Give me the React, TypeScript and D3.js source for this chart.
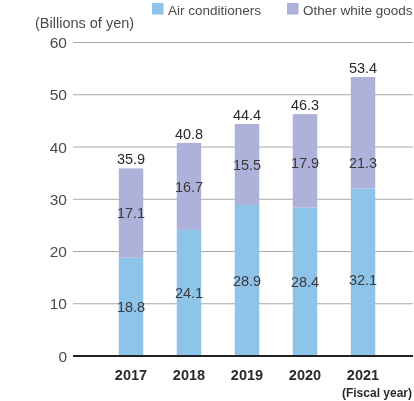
import React from "react";
import * as d3 from "d3";

const years = ["2017", "2018", "2019", "2020", "2021"];
const airConditioners = [18.8, 24.1, 28.9, 28.4, 32.1];
const otherWhiteGoods = [17.1, 16.7, 15.5, 17.9, 21.3];
const yTicks = [0, 10, 20, 30, 40, 50, 60];
const seriesNames = ["Air conditioners", "Other white goods"];
const colors = ["#8fc4ea", "#aeb2da"];

const W = 414;
const H = 401;
const FONT = "'Liberation Sans', Arial, Helvetica, sans-serif";

export default function App() {
  const x = d3
    .scaleBand<string>()
    .domain(years)
    .range([102, 392])
    .paddingInner(0.578)
    .paddingOuter(0.289);
  const y = d3.scaleLinear().domain([0, 60]).range([356, 42.5]);
  const bw = x.bandwidth();

  return (
    <div style={{ position: "fixed", left: 0, top: 0, width: W, height: H }}>
      <svg width={W} height={H} style={{ display: "block" }} fontFamily={FONT}>
        {/* gridlines */}
        {yTicks.filter((t) => t !== 0).map((t) => (
          <line key={t} x1={73} x2={413} y1={y(t)} y2={y(t)} stroke="#a8a8a8" strokeWidth={1} />
        ))}
        {/* y tick labels */}
        {yTicks.map((t) => (
          <text key={"l" + t} x={67} y={y(t)} dy="0.36em" textAnchor="end" fontSize={15.5} fill="#4a4a4a">
            {t}
          </text>
        ))}
        {/* axis title */}
        <text x={35} y={28} fontSize={14.5} fill="#4a4a4a">(Billions of yen)</text>

        {/* bars */}
        {years.map((yr, i) => {
          const a = airConditioners[i];
          const o = otherWhiteGoods[i];
          const x0 = x(yr)!;
          const cx = x0 + bw / 2;
          const total = +(a + o).toFixed(1);
          const lowMid = Math.min(a / 2, 14.5);
          const upMid = Math.min(a + o / 2, 36.9);
          return (
            <g key={yr}>
              <rect x={x0} width={bw} y={y(a)} height={y(0) - y(a)} fill={colors[0]} />
              <rect x={x0} width={bw} y={y(a + o)} height={y(a) - y(a + o)} fill={colors[1]} />
              <text x={cx} y={y(lowMid)} dy="0.36em" textAnchor="middle" fontSize={14.5} fill="#3a3a3a">
                {a.toFixed(1)}
              </text>
              <text x={cx} y={y(upMid)} dy="0.36em" textAnchor="middle" fontSize={14.5} fill="#3a3a3a">
                {o.toFixed(1)}
              </text>
              <text x={cx} y={y(a + o) - 4} textAnchor="middle" fontSize={14.5} fill="#2a2a2a">
                {total.toFixed(1)}
              </text>
              <text x={cx} y={380} textAnchor="middle" fontSize={14.5} fontWeight="bold" fill="#2a2a2a">
                {yr}
              </text>
            </g>
          );
        })}

        {/* baseline */}
        <line x1={73} x2={413} y1={y(0)} y2={y(0)} stroke="#222" strokeWidth={2} />
        <text x={412} y={397} textAnchor="end" fontSize={12} fontWeight="bold" fill="#2a2a2a">
          (Fiscal year)
        </text>

        {/* legend */}
        {seriesNames.map((n, i) => {
          const lx = i === 0 ? 152 : 287;
          return (
            <g key={n}>
              <rect x={lx} y={3} width={11.5} height={11.5} fill={colors[i]} />
              <text x={lx + 16} y={15} fontSize={13.5} fill="#4a4a4a">
                {n}
              </text>
            </g>
          );
        })}
      </svg>
    </div>
  );
}
